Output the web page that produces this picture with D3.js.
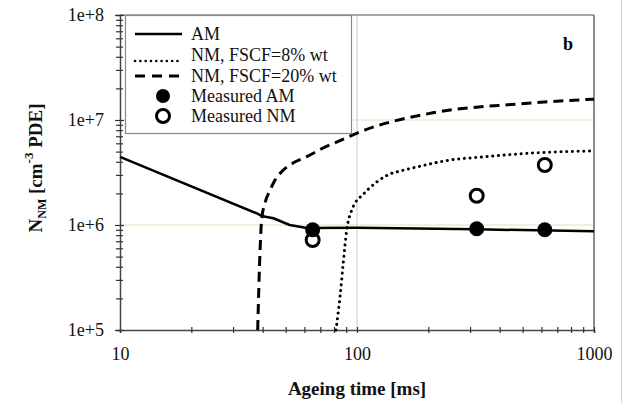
<!DOCTYPE html>
<html><head><meta charset="utf-8">
<script src="https://cdn.jsdelivr.net/npm/d3@7"></script>
<style>body{margin:0;background:#fff}svg text{font-family:"Liberation Serif","Times New Roman","DejaVu Serif",serif !important}</style>
</head><body><svg id="c" width="632" height="403"></svg>
<script>
// ---- data ----
const xTicks = [10, 100, 1000];
const yTicks = [1e5, 1e6, 1e7, 1e8];
const amT = [10, 37.8, 39.6, 44.4, 52, 61.4, 100, 320, 1000];
const amN = [4.45e6, 1.29e6, 1.22e6, 1.16e6, 1.0e6, 9.35e5, 9.4e5, 9.1e5, 8.7e5];
const nm8T = [81.5, 84.8, 87.5, 90.5, 95.1, 98.1, 102, 106, 113, 122, 135, 155, 179, 247, 340, 553, 1000];
const nm8N = [1e5, 2.07e5, 4.35e5, 8.96e5, 1.39e6, 1.62e6, 1.8e6, 1.95e6, 2.25e6, 2.6e6, 3.0e6, 3.3e6, 3.57e6, 4.16e6, 4.45e6, 4.85e6, 5.07e6];
const nm20T = [38.1, 39, 39.6, 40.9, 43, 45.1, 48.1, 53.7, 61.4, 71.9, 84.8, 100, 209, 473, 1000];
const nm20N = [1e5, 5.8e5, 1.12e6, 1.62e6, 2.15e6, 2.68e6, 3.22e6, 3.89e6, 4.47e6, 5.41e6, 6.35e6, 7.5e6, 1.17e7, 1.42e7, 1.58e7];
const measT = [65, 320, 620];
const measAM = [9.0e5, 9.2e5, 9.0e5];
const measNM = [7.2e5, 1.9e6, 3.73e6];
const legendLabels = ["AM", "NM, FSCF=8% wt", "NM, FSCF=20% wt", "Measured AM", "Measured NM"];

const FONT = "'Liberation Serif', 'Times New Roman', serif";
const svg = d3.select("#c");
const L = 120, R = 594, T = 15, B = 330;
const x = d3.scaleLog().domain([10, 1000]).range([L, R]);
const y = d3.scaleLog().domain([1e5, 1e8]).range([B, T]);

// faint right-edge line of the picture
svg.append("line").attr("x1", 621.5).attr("x2", 621.5).attr("y1", 0).attr("y2", 403)
  .attr("stroke", "#f6c4c4").attr("stroke-width", 1);

// grid lines
svg.append("line").attr("x1", x(100)).attr("x2", x(100)).attr("y1", T).attr("y2", B)
  .attr("stroke", "#c8c8c8").attr("stroke-width", 1);
[1e6, 1e7].forEach(v => svg.append("line").attr("x1", L).attr("x2", R).attr("y1", y(v)).attr("y2", y(v))
  .attr("stroke", "#dde4b8").attr("stroke-width", 1));

// frame top/right
svg.append("line").attr("x1", L).attr("x2", R).attr("y1", T).attr("y2", T).attr("stroke", "#8a8a8a").attr("stroke-width", 1.5);
svg.append("line").attr("x1", R).attr("x2", R).attr("y1", T).attr("y2", B).attr("stroke", "#666").attr("stroke-width", 1.5);

// minor tick lists
const xAll = [], yAll = [];
for (let d = 10; d < 1000; d *= 10) for (let k = 1; k < 10; k++) xAll.push(d * k);
xAll.push(1000);
for (let d = 1e5; d < 1e8; d *= 10) for (let k = 1; k < 10; k++) yAll.push(d * k);
yAll.push(1e8);
const isMajor = v => Math.abs(Math.log10(v) - Math.round(Math.log10(v))) < 1e-9;

// axes
const xAx = svg.append("g").attr("transform", `translate(0,${B})`)
  .call(d3.axisBottom(x).tickValues(xAll).tickSize(3).tickPadding(14)
    .tickFormat(d => isMajor(d) ? String(d) : ""));
xAx.attr("font-family", FONT);
xAx.selectAll(".tick line").attr("y1", -3).attr("stroke", "#333").attr("stroke-width", 1.2);
xAx.select(".domain").attr("stroke", "#444").attr("stroke-width", 1.5);
xAx.selectAll("text").attr("font-size", 18).attr("fill", "#111");

const yAx = svg.append("g").attr("transform", `translate(${L},0)`)
  .call(d3.axisLeft(y).tickValues(yAll).tickSize(4).tickPadding(12)
    .tickFormat(d => isMajor(d) ? "1e+" + Math.round(Math.log10(d)) : ""));
yAx.attr("font-family", FONT);
yAx.selectAll(".tick line").attr("x1", 3).attr("stroke", "#333").attr("stroke-width", 1.2);
yAx.selectAll(".tick").filter(d => isMajor(d)).select("line").attr("x2", -5).attr("x1", 4);
yAx.select(".domain").attr("stroke", "#444").attr("stroke-width", 1.5);
yAx.selectAll("text").attr("font-size", 18).attr("fill", "#111");

// curves
const smooth = d3.line().curve(d3.curveMonotoneX);
const straight = d3.line();
const pts = (t, n) => t.map((v, i) => [x(v), y(n[i])]);
svg.append("path").attr("d", smooth(pts(nm20T, nm20N))).attr("fill", "none").attr("stroke", "#000")
  .attr("stroke-width", 3).attr("stroke-dasharray", "10,6");
svg.append("path").attr("d", smooth(pts(nm8T, nm8N))).attr("fill", "none").attr("stroke", "#000")
  .attr("stroke-width", 3).attr("stroke-linecap", "round").attr("stroke-dasharray", "0.1,5.6");
svg.append("path").attr("d", straight(pts(amT, amN))).attr("fill", "none").attr("stroke", "#000")
  .attr("stroke-width", 2.5).attr("stroke-linejoin", "round");

// measured points
svg.selectAll(".nm").data(measT).enter().append("circle")
  .attr("cx", d => x(d)).attr("cy", (d, i) => y(measNM[i])).attr("r", 6.5)
  .attr("fill", "#fff").attr("stroke", "#000").attr("stroke-width", 3);
svg.selectAll(".am").data(measT).enter().append("circle")
  .attr("cx", d => x(d)).attr("cy", (d, i) => y(measAM[i])).attr("r", 7.5).attr("fill", "#000");

// legend
const lg = svg.append("g").attr("font-family", FONT);
lg.append("rect").attr("x", 125.5).attr("y", 15.5).attr("width", 226).attr("height", 118)
  .attr("fill", "#fff").attr("stroke", "#888").attr("stroke-width", 1.2);
const rowY = [34, 55, 76, 96, 116];
lg.append("line").attr("x1", 135).attr("x2", 182).attr("y1", rowY[0]).attr("y2", rowY[0]).attr("stroke", "#000").attr("stroke-width", 2.5);
lg.append("line").attr("x1", 135).attr("x2", 182).attr("y1", rowY[1] + 6).attr("y2", rowY[1] + 6).attr("stroke", "#000")
  .attr("stroke-width", 2.5).attr("stroke-linecap", "round").attr("stroke-dasharray", "0.1,5.2");
lg.append("line").attr("x1", 135).attr("x2", 182).attr("y1", rowY[2]).attr("y2", rowY[2]).attr("stroke", "#000")
  .attr("stroke-width", 3).attr("stroke-dasharray", "10,7");
lg.append("circle").attr("cx", 163).attr("cy", rowY[3]).attr("r", 7).attr("fill", "#000");
lg.append("circle").attr("cx", 163).attr("cy", rowY[4]).attr("r", 6.5).attr("fill", "#fff").attr("stroke", "#000").attr("stroke-width", 3);
lg.selectAll(".lt").data(legendLabels).enter().append("text")
  .attr("x", 191).attr("y", (d, i) => rowY[i] + 6).attr("font-size", 18).attr("fill", "#111").text(d => d);

// panel label
svg.append("text").attr("x", 568).attr("y", 50).attr("text-anchor", "middle").attr("font-size", 18)
  .attr("font-family", FONT).attr("font-weight", "bold").text("b");

// axis titles
svg.append("text").attr("x", 357).attr("y", 395).attr("text-anchor", "middle").attr("font-size", 19)
  .attr("font-family", FONT).attr("font-weight", "bold").attr("fill", "#111").text("Ageing time [ms]");
const yt = svg.append("text").attr("transform", "translate(42,168) rotate(-90)").attr("text-anchor", "middle")
  .attr("font-family", FONT).attr("font-size", 19).attr("font-weight", "bold").attr("fill", "#111");
yt.append("tspan").text("N");
yt.append("tspan").attr("font-size", 12).attr("dy", 4).text("NM");
yt.append("tspan").attr("dy", -4).text(" [cm");
yt.append("tspan").attr("font-size", 13).attr("dy", -9).text("-3");
yt.append("tspan").attr("dy", 9).text(" PDE]");
</script></body></html>
